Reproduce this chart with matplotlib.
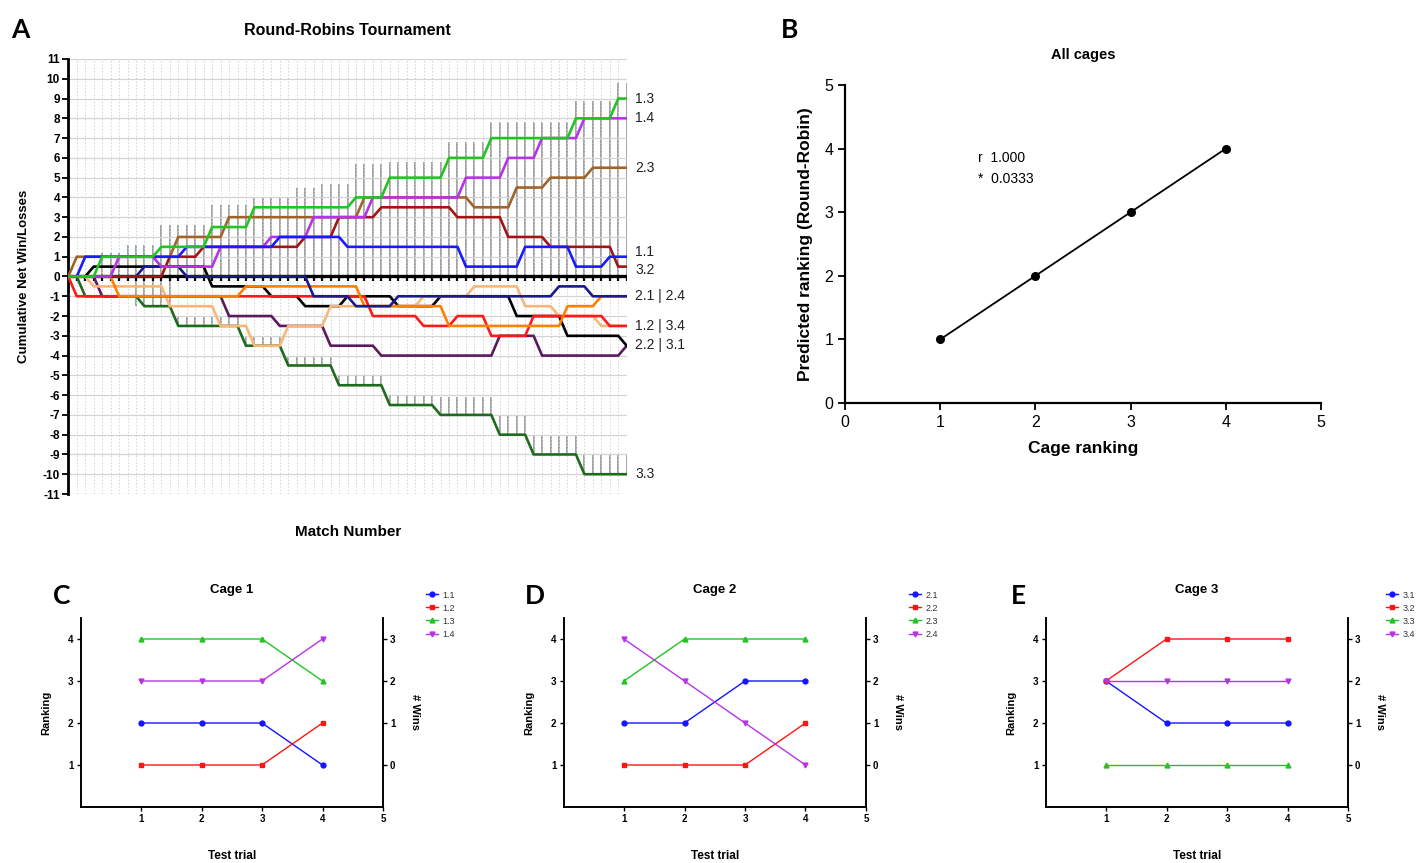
import matplotlib
matplotlib.use("Agg")
import matplotlib.pyplot as plt

plt.rcParams['font.family'] = ['Liberation Sans', 'DejaVu Sans']

W, H = 1418, 863

# ============================================================
# Panel A - round robin (vertices of each cumulative curve)
# ============================================================
matches = list(range(67))

m_13 = [0, 3, 4, 10, 11, 16, 17, 21, 22, 33, 34, 37, 38, 44, 45, 49, 50, 59, 60, 64, 65, 66]
v_13 = [0, 0, 1, 1, 1.5, 1.5, 2.5, 2.5, 3.5, 3.5, 4, 4, 5, 5, 6, 6, 7, 7, 8, 8, 9, 9]
m_14 = [0, 5, 6, 10, 11, 17, 18, 23, 24, 28, 29, 35, 36, 46, 47, 51, 52, 55, 56, 60, 61, 66]
v_14 = [0, 0, 1, 1, 0.5, 0.5, 1.5, 1.5, 2, 2, 3, 3, 4, 4, 5, 5, 6, 6, 7, 7, 8, 8]
m_23 = [0, 1, 12, 13, 18, 19, 34, 35, 47, 48, 52, 53, 56, 57, 61, 62, 66]
v_23 = [0, 1, 1, 2, 2, 3, 3, 4, 4, 3.5, 3.5, 4.5, 4.5, 5, 5, 5.5, 5.5]
m_11 = [0, 1, 2, 13, 14, 24, 25, 32, 33, 46, 47, 53, 54, 59, 60, 63, 64, 66]
v_11 = [0, 0, 1, 1, 1.5, 1.5, 2, 2, 1.5, 1.5, 0.5, 0.5, 1.5, 1.5, 0.5, 0.5, 1, 1]
m_32 = [0, 11, 12, 15, 16, 27, 28, 31, 32, 36, 37, 45, 46, 51, 52, 56, 57, 64, 65, 66]
v_32 = [0, 0, 1, 1, 1.5, 1.5, 2, 2, 3, 3, 3.5, 3.5, 3, 3, 2, 2, 1.5, 1.5, 0.5, 0.5]
m_21 = [0, 8, 9, 13, 14, 28, 29, 33, 34, 38, 39, 57, 58, 61, 62, 66]
v_21 = [0, 0, 0.5, 0.5, 0, 0, -1, -1, -1.5, -1.5, -1, -1, -0.5, -0.5, -1, -1]
m_24 = [0, 5, 6, 20, 21, 34, 35, 44, 45, 58, 59, 62, 63, 66]
v_24 = [0, 0, -1, -1, -0.5, -0.5, -1.5, -1.5, -2.5, -2.5, -1.5, -1.5, -1, -1]
m_12 = [0, 1, 35, 36, 41, 42, 45, 46, 49, 50, 54, 55, 63, 64, 66]
v_12 = [0, -1, -1, -2, -2, -2.5, -2.5, -2, -2, -3, -3, -2, -2, -2.5, -2.5]
m_34 = [0, 2, 3, 11, 12, 17, 18, 21, 22, 25, 26, 30, 31, 41, 42, 47, 48, 53, 54, 57, 58, 62, 63, 66]
v_34 = [0, 0, -0.5, -0.5, -1.5, -1.5, -2.5, -2.5, -3.5, -3.5, -2.5, -2.5, -1.5, -1.5, -1, -1,
        -0.5, -0.5, -1.5, -1.5, -2, -2, -2.5, -2.5]
m_22 = [0, 2, 3, 16, 17, 23, 24, 27, 28, 32, 33, 38, 39, 43, 44, 52, 53, 58, 59, 65, 66]
v_22 = [0, 0, 0.5, 0.5, -0.5, -0.5, -1, -1, -1.5, -1.5, -1, -1, -1.5, -1.5, -1, -1, -2, -2, -3, -3, -3.5]
m_31 = [0, 3, 4, 18, 19, 24, 25, 30, 31, 36, 37, 50, 51, 55, 56, 65, 66]
v_31 = [0, 0, -1, -1, -2, -2, -2.5, -2.5, -3.5, -3.5, -4, -4, -3, -3, -4, -4, -3.5]
m_33 = [0, 1, 2, 8, 9, 12, 13, 20, 21, 25, 26, 31, 32, 37, 38, 43, 44, 50, 51, 54, 55, 60, 61, 66]
v_33 = [0, 0, -1, -1, -1.5, -1.5, -2.5, -2.5, -3.5, -3.5, -4.5, -4.5, -5.5, -5.5, -6.5, -6.5,
        -7, -7, -8, -8, -9, -9, -10, -10]

# mean of all animals (always 0) with its small lower bar
mean_net = [0.0] * 67
mean_err = [0.22] * 67

# grey bars per match: upper bar top, lower bar bounds
bar_hi = [0, 0, 0, 0, 1.2, 1.2, 1.2, 1.6, 1.6, 1.6, 1.6,
          2.6, 2.6, 2.6, 2.6, 2.6, 2.6, 3.6, 3.6, 3.6, 3.6, 3.6,
          4.0, 4.0, 4.0, 4.0, 4.0, 4.5, 4.5, 4.5, 4.7, 4.7, 4.7, 4.7,
          5.7, 5.7, 5.7, 5.7, 5.8, 5.8, 5.8, 5.8, 5.8, 5.8, 5.8,
          6.8, 6.8, 6.8, 6.8, 6.8,
          7.8, 7.8, 7.8, 7.8, 7.8, 7.8, 7.8, 7.8, 7.8, 7.8,
          8.9, 8.9, 8.9, 8.9, 8.9, 9.8, 9.8]
bar_lo_top = [0, 0, 0, 0, 0, 0, 0, 0,
              0, 0, 0, 0, 0,
              -2.0, -2.0, -2.0, -2.0, -2.0, -2.0, -2.0, -2.0,
              -3.0, -3.0, -3.0, -3.0, -3.0,
              -4.0, -4.0, -4.0, -4.0, -4.0, -4.0,
              -5.0, -5.0, -5.0, -5.0, -5.0, -5.0,
              -6.0, -6.0, -6.0, -6.0, -6.0, -6.0,
              -6.1, -6.1, -6.1, -6.1, -6.1, -6.1, -6.1,
              -7.0, -7.0, -7.0, -7.0,
              -8.0, -8.0, -8.0, -8.0, -8.0, -8.0,
              -9.0, -9.0, -9.0, -9.0, -9.0, -9.0]
bar_lo_bot = [0, 0, 0, 0, 0, 0, 0, 0,
              -1.5, -1.5, -1.5, -1.5, -1.5,
              -2.5, -2.5, -2.5, -2.5, -2.5, -2.5, -2.5, -2.5,
              -3.5, -3.5, -3.5, -3.5, -3.5,
              -4.5, -4.5, -4.5, -4.5, -4.5, -4.5,
              -5.5, -5.5, -5.5, -5.5, -5.5, -5.5,
              -6.5, -6.5, -6.5, -6.5, -6.5, -6.5,
              -7.0, -7.0, -7.0, -7.0, -7.0, -7.0, -7.0,
              -8.0, -8.0, -8.0, -8.0,
              -9.0, -9.0, -9.0, -9.0, -9.0, -9.0,
              -10.0, -10.0, -10.0, -10.0, -10.0, -10.0]

end_labels = ["1.3", "1.4", "2.3", "1.1", "3.2", "2.1 | 2.4", "1.2 | 3.4", "2.2 | 3.1", "3.3"]
end_label_y = [9, 8, 5.5, 1.25, 0.35, -1, -2.5, -3.45, -10]

# ============================================================
# Panel B
# ============================================================
cage_rank = [1, 2, 3, 4]
predicted_rank = [1, 2, 3, 4]

# ============================================================
# Panels C, D, E - ranking per test trial
# ============================================================
trials = [1, 2, 3, 4]
cage1 = {"1.1": [2, 2, 2, 1], "1.2": [1, 1, 1, 2], "1.3": [4, 4, 4, 3], "1.4": [3, 3, 3, 4]}
cage2 = {"2.1": [2, 2, 3, 3], "2.2": [1, 1, 1, 2], "2.3": [3, 4, 4, 4], "2.4": [4, 3, 2, 1]}
cage3 = {"3.1": [3, 2, 2, 2], "3.2": [3, 4, 4, 4], "3.3": [1, 1, 1, 1], "3.4": [3, 3, 3, 3]}


def px_axes(fig, x0, y0, x1, y1):
    # pixel box (left, top, right, bottom) -> figure axes
    return fig.add_axes([x0 / W, 1 - y1 / H, (x1 - x0) / W, (y1 - y0) / H])


fig = plt.figure(figsize=(W / 100, H / 100), dpi=100)

# ------------------------------------------------------------
# A
# ------------------------------------------------------------
axA = px_axes(fig, 68.3, 59, 626.7, 494)
axA.set_xlim(0, 66)
axA.set_ylim(-11, 11)

axA.vlines(matches, 0, bar_hi, color="#8a8a8a", lw=1.1, zorder=1)
axA.vlines(matches, bar_lo_bot, bar_lo_top, color="#8a8a8a", lw=1.1, zorder=1)

axA.errorbar(matches, mean_net, yerr=[mean_err, [0] * 67], fmt="-", color="black",
             lw=2.4, elinewidth=1.6, capsize=0, zorder=2)

series_A = [
    (m_33, v_33, "#1e6b1e"),
    (m_31, v_31, "#5c1a5c"),
    (m_22, v_22, "#000000"),
    (m_34, v_34, "#f7b77a"),
    (m_12, v_12, "#ff1a1a"),
    (m_24, v_24, "#ff8000"),
    (m_21, v_21, "#1a1a8c"),
    (m_32, v_32, "#a31515"),
    (m_23, v_23, "#a0642a"),
    (m_14, v_14, "#b833e6"),
    (m_11, v_11, "#1a1aff"),
    (m_13, v_13, "#22c422"),
]
for mx, vy, c in series_A:
    axA.plot(mx, vy, color=c, lw=1.9, zorder=3, solid_joinstyle="round")

axA.set_xticks(matches)
axA.set_xticklabels([])
axA.set_yticks(range(-11, 12))
axA.set_yticklabels([str(t) for t in range(-11, 12)], fontsize=8.5, fontweight="bold")
axA.tick_params(axis="x", length=0)
axA.tick_params(axis="y", length=4, width=1.3, pad=2)
axA.grid(axis="x", color="#d2d2d2", lw=0.7, linestyle=(0, (1.5, 2)), zorder=0)
axA.grid(axis="y", color="#d4d4d4", lw=0.9, zorder=0)
for s in ["top", "right", "bottom"]:
    axA.spines[s].set_visible(False)
axA.spines["left"].set_linewidth(2)

for lab, yy in zip(end_labels, end_label_y):
    axA.text(67.0, yy, lab, fontsize=10, va="center", ha="left", color="#222222")

axA.set_title("Round-Robins Tournament", fontsize=11.5, fontweight="bold", pad=17)
axA.set_ylabel("Cumulative Net Win/Losses", fontsize=9.5, fontweight="bold", labelpad=9)
fig.text(348 / W, 1 - 532 / H, "Match Number", fontsize=11, fontweight="bold",
         ha="center", va="center")

# ------------------------------------------------------------
# B
# ------------------------------------------------------------
axB = px_axes(fig, 845, 85, 1321, 403)
axB.plot(cage_rank, predicted_rank, color="black", lw=1.3, marker="o", markersize=5.5)
axB.set_xlim(0, 5)
axB.set_ylim(0, 5)
axB.set_xticks(range(6))
axB.set_yticks(range(6))
axB.tick_params(labelsize=11.5, length=5, width=1.3)
for s in ["top", "right"]:
    axB.spines[s].set_visible(False)
for s in ["left", "bottom"]:
    axB.spines[s].set_linewidth(1.6)
axB.set_title("All cages", fontsize=10.5, fontweight="bold", pad=19)
axB.set_xlabel("Cage ranking", fontsize=12.5, fontweight="bold", labelpad=8)
axB.set_ylabel("Predicted ranking (Round-Robin)", fontsize=12.5, fontweight="bold", labelpad=8)
axB.text(1.4, 3.86, "r  1.000", fontsize=10, va="center")
axB.text(1.4, 3.52, "*  0.0333", fontsize=10, va="center")

# ------------------------------------------------------------
# C, D, E
# ------------------------------------------------------------
cage_colors = ["#1414ff", "#ff1414", "#22c422", "#b833e6"]
cage_markers = ["o", "s", "^", "v"]
# (data, title, x of the left axis, legend x offset)
cage_panels = [(cage1, "Cage 1", 80.5, 341), (cage2, "Cage 2", 563.5, 341), (cage3, "Cage 3", 1045.5, 336)]

for data, title, x0, lg_dx in cage_panels:
    ax = px_axes(fig, x0, 618, x0 + 302.5, 807)
    ax2 = ax.twinx()
    for (name, vals), c, mk in zip(data.items(), cage_colors, cage_markers):
        ax.plot(trials, vals, color=c, marker=mk, markersize=3.5, lw=1.0, label=name)
    ax.set_xlim(0, 5)
    ax.set_ylim(0, 4.5)
    ax2.set_ylim(-1, 3.5)
    ax.set_xticks([1, 2, 3, 4, 5])
    ax.set_yticks([1, 2, 3, 4])
    ax2.set_yticks([0, 1, 2, 3])
    for a in (ax, ax2):
        a.spines["top"].set_visible(False)
        for s in ["left", "right", "bottom"]:
            a.spines[s].set_linewidth(1.2)
        a.tick_params(labelsize=7, length=3, width=1.0, pad=2)
        for lab in a.get_xticklabels() + a.get_yticklabels():
            lab.set_fontweight("bold")
    ax.set_title(title, fontsize=9.5, fontweight="bold", pad=18)
    ax.set_xlabel("Test trial", fontsize=8.5, fontweight="bold", labelpad=19)
    ax.set_ylabel("Ranking", fontsize=8, fontweight="bold", labelpad=12)
    ax2.set_ylabel("# Wins", fontsize=8, fontweight="bold", rotation=-90, labelpad=18)
    leg = ax.legend(loc="upper left", bbox_to_anchor=((x0 + lg_dx) / W, 1 - 586 / H),
                    bbox_transform=fig.transFigure, frameon=False, fontsize=6.5,
                    handlelength=1.3, handletextpad=0.5, labelspacing=0.45, borderpad=0)
    for t in leg.get_texts():
        t.set_color("#333333")

# ------------------------------------------------------------
# Panel letters
# ------------------------------------------------------------
for letter, lx, ly in [("A", 20, 30), ("B", 790, 30), ("C", 62, 596), ("D", 535, 596), ("E", 1018, 596)]:
    fig.text(lx / W, 1 - ly / H, letter, fontsize=19, fontweight="bold",
             family=["Lato", "DejaVu Sans"], ha="center", va="center")

fig.savefig("out.png", dpi=100)
